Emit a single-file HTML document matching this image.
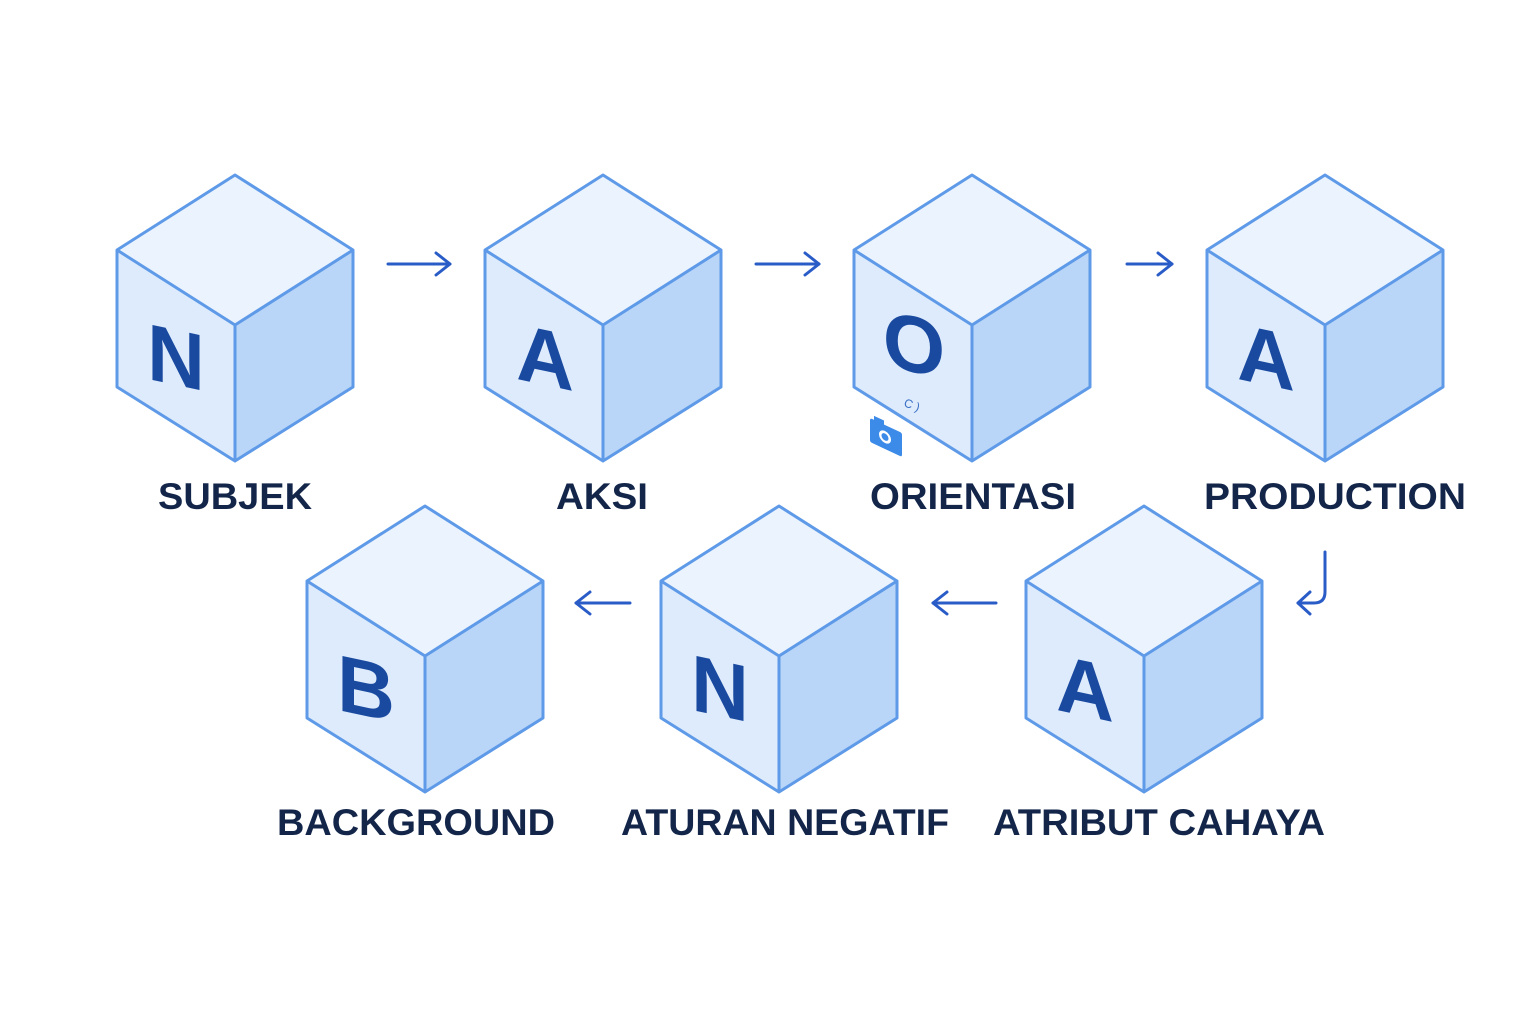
<!DOCTYPE html>
<html><head><meta charset="utf-8"><style>
html,body{margin:0;padding:0;background:#fff;}
svg{display:block;}
text{font-family:"Liberation Sans",sans-serif;}
</style></head><body>
<svg width="1536" height="1024" viewBox="0 0 1536 1024" xmlns="http://www.w3.org/2000/svg">
<defs>
<g id="cube">
  <polygon points="0,-150 118,-75 0,0 -118,-75" fill="#eaf3fe"/>
  <polygon points="-118,-75 0,0 0,136 -118,62" fill="#ddebfc"/>
  <polygon points="118,-75 0,0 0,136 118,62" fill="#b9d6f8"/>
  <g fill="none" stroke="#5e9ae8" stroke-width="3" stroke-linejoin="round">
    <polygon points="0,-150 118,-75 118,62 0,136 -118,62 -118,-75"/>
    <polyline points="-118,-75 0,0 118,-75"/>
    <line x1="0" y1="0" x2="0" y2="136"/>
  </g>
</g>
</defs>

<use href="#cube" x="235" y="325"/>
<use href="#cube" x="603" y="325"/>
<use href="#cube" x="972" y="325"/>
<use href="#cube" x="1325" y="325"/>
<use href="#cube" x="425" y="656"/>
<use href="#cube" x="779" y="656"/>
<use href="#cube" x="1144" y="656"/>

<g fill="#1a4aa0" font-weight="bold" font-size="80" text-anchor="middle">
  <text transform="translate(176,385) skewY(12)">N</text>
  <text transform="translate(545,385) skewY(12)">A</text>
  <text transform="translate(914,372) skewY(12)">O</text>
  <text transform="translate(1266,385) skewY(12)">A</text>
  <text transform="translate(366,716) skewY(12)">B</text>
  <text transform="translate(720,716) skewY(12)">N</text>
  <text transform="translate(1085,716) skewY(12)">A</text>
</g>
<text x="912" y="409" font-size="12" fill="#3a6fc4" transform="rotate(20 912 405)" text-anchor="middle">C )</text>
<g transform="translate(870,418) skewY(25)">
  <rect x="0" y="0" width="32" height="24" rx="2" fill="#3c8be8"/>
  <rect x="4" y="-4" width="10" height="5" fill="#3c8be8"/>
  <circle cx="15" cy="12" r="6" fill="#fff"/>
  <circle cx="15" cy="12" r="3.5" fill="#3c8be8"/>
</g>

<g stroke="#2a5cc8" stroke-width="3" fill="none" stroke-linecap="round" stroke-linejoin="round">
  <line x1="388" y1="264" x2="450" y2="264"/><polyline points="436,253 450,264 436,275"/>
  <line x1="756" y1="264" x2="819" y2="264"/><polyline points="805,253 819,264 805,275"/>
  <line x1="1127" y1="264" x2="1172" y2="264"/><polyline points="1158,253 1172,264 1158,275"/>
  <line x1="630" y1="603" x2="576" y2="603"/><polyline points="590,592 576,603 590,614"/>
  <line x1="996" y1="603" x2="933" y2="603"/><polyline points="947,592 933,603 947,614"/>
  <path d="M1325,552 L1325,592 Q1325,603 1314,603 L1298,603"/><polyline points="1310,592 1298,603 1310,614"/>
</g>

<g fill="#13264a" font-weight="bold" font-size="37" text-anchor="middle">
  <text x="235" y="509" textLength="154" lengthAdjust="spacingAndGlyphs">SUBJEK</text>
  <text x="602" y="509" textLength="92" lengthAdjust="spacingAndGlyphs">AKSI</text>
  <text x="973" y="509" textLength="206" lengthAdjust="spacingAndGlyphs">ORIENTASI</text>
  <text x="1335" y="509" textLength="262" lengthAdjust="spacingAndGlyphs">PRODUCTION</text>
  <text x="416" y="835" textLength="278" lengthAdjust="spacingAndGlyphs">BACKGROUND</text>
  <text x="785" y="835" textLength="328" lengthAdjust="spacingAndGlyphs">ATURAN NEGATIF</text>
  <text x="1159" y="835" textLength="332" lengthAdjust="spacingAndGlyphs">ATRIBUT CAHAYA</text>
</g>
</svg>
</body></html>
